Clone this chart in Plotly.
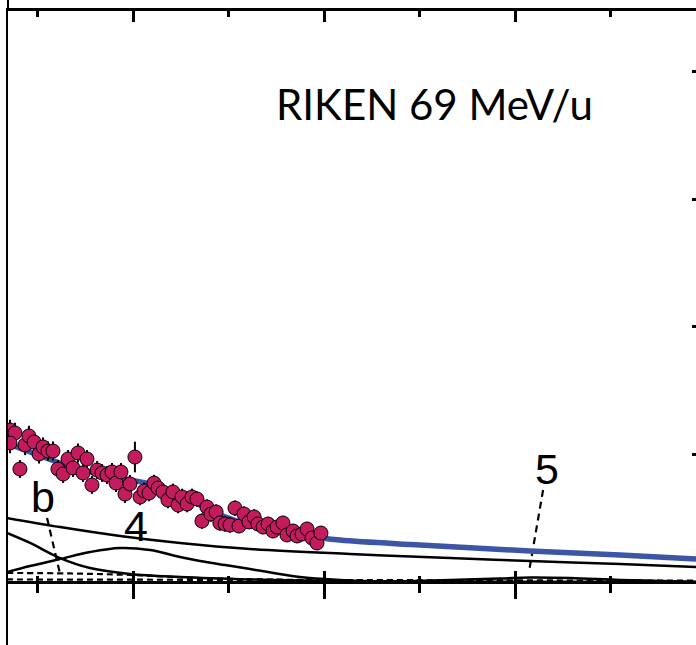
import plotly.graph_objects as go

# ---- measured spectrum (RIKEN, 69 MeV/u) ----
ex_data = [3.56, 3.82, 3.56, 4.35, 4.55, 4.82, 5.08, 5.29, 5.55, 5.81,
           4.08, 6.07, 6.34, 6.60, 6.86, 7.12, 7.38, 7.59, 7.85, 8.12,
           8.38, 8.64, 8.90, 9.11, 9.37, 9.58, 9.84, 10.10, 10.37, 10.58,
           10.84, 11.10, 11.31, 11.57, 11.83, 12.09, 12.36, 12.57, 12.83, 13.09,
           13.35, 13.61, 13.87, 14.08, 14.35, 14.55, 14.82, 15.08, 15.34, 15.55,
           15.81, 16.07, 16.34, 16.54, 16.81, 17.07, 17.33, 17.54, 17.85, 18.06,
           18.38, 18.59, 18.85, 19.11, 19.37, 19.63, 19.84]
counts = [119.2, 116.9, 109.0, 107.5, 114.5, 109.8, 100.4, 105.9, 102.7, 102.7,
          88.6, 88.6, 84.7, 96.5, 89.4, 101.2, 85.5, 96.5, 76.1, 87.8,
          85.5, 83.9, 86.3, 77.6, 86.3, 69.0, 76.9, 98.0, 66.7, 71.4,
          69.8, 77.6, 73.7, 70.6, 64.3, 70.6, 60.4, 66.7, 61.2, 66.7,
          65.1, 47.8, 58.8, 53.3, 54.9, 46.3, 45.5, 44.7, 58.0, 43.9,
          53.3, 47.1, 51.0, 45.5, 43.1, 45.5, 40.0, 43.1, 46.3, 36.9,
          40.0, 36.1, 37.6, 41.6, 34.5, 30.6, 38.4]
count_err = [8.0, 8.0, 8.0, 8.0, 8.0, 7.5, 7.5, 7.5, 7.5, 7.5,
             7.0, 7.0, 7.0, 7.0, 7.0, 7.5, 7.0, 7.0, 7.0, 7.0,
             7.0, 7.0, 7.0, 7.0, 7.0, 7.0, 7.0, 12.0, 6.5, 6.5,
             6.5, 6.5, 6.5, 6.5, 6.5, 6.5, 6.5, 6.5, 6.5, 6.5,
             6.0, 6.0, 6.0, 6.0, 6.0, 6.0, 6.0, 6.0, 6.0, 5.5,
             6.0, 5.5, 6.0, 5.5, 5.5, 5.5, 5.5, 5.5, 5.5, 5.5,
             5.5, 5.5, 5.5, 5.5, 5.5, 5.5, 5.5]

# ---- total fit ----
fit_x = [3.40, 4.61, 6.18, 7.75, 9.84, 11.15, 12.30, 13.51, 14.71, 16.65,
         18.74, 20.84, 25.03, 30.79, 35.50, 39.48]
fit_y = [109.0, 102.0, 93.3, 86.3, 80.0, 76.1, 69.0, 60.4, 51.8, 42.4,
         36.9, 32.9, 29.0, 24.3, 21.2, 18.0]

# ---- fit components ----
cont_x = [3.40, 6.18, 9.32, 12.46, 16.13, 21.36, 26.60, 30.79, 35.50, 39.48]
cont_y = [50.2, 43.1, 36.1, 30.6, 25.9, 22.0, 18.8, 16.5, 14.1, 11.8]

low_x = [3.40, 4.61, 6.18, 7.75, 9.84, 12.46, 16.13, 20.31, 26.60, 39.48]
low_y = [38.4, 30.6, 18.8, 11.0, 6.3, 3.9, 2.0, 0.8, 0.2, 0.0]

st4_x = [3.40, 4.61, 6.18, 7.75, 9.32, 10.89, 12.46, 13.51, 14.82, 16.13,
         18.74, 20.84, 23.98, 39.48]
st4_y = [7.8, 12.5, 18.0, 23.5, 26.7, 25.1, 19.6, 16.5, 13.3, 10.2,
         3.9, 1.6, 0.0, 0.0]

st5_x = [22.93, 26.60, 29.21, 30.79, 32.88, 35.50, 38.64, 39.48]
st5_y = [0.0, 1.6, 2.7, 3.5, 3.1, 1.6, 0.4, 0.0]

bg_x = [3.40, 6.71, 9.84, 13.51, 18.74, 26.60, 39.48]
bg_y = [7.1, 6.7, 5.5, 3.1, 1.6, 0.8, 0.4]

bg2_x = [3.40, 39.48]
bg2_y = [2.0, 1.0]

# ---- labels and leader lines ----
labels = ["b", "4", "5"]
label_x = [5.29, 10.16, 31.68]
label_y = [67.0, 44.0, 88.5]
lead_b_x = [5.50, 6.18]
lead_b_y = [50.2, 6.3]
lead_5_x = [31.47, 30.73]
lead_5_y = [72.2, 7.8]

title_text = "RIKEN 69 MeV/u"
title_x = 25.81
title_y = 374.5

# axis geometry
x_range = [3.455, 39.476]
y_range = [-49.4, 447.8]
y_ticks = [100, 200, 300, 400]
zero_pos = (0 - y_range[0]) / (y_range[1] - y_range[0])

fig = go.Figure()

fig.add_trace(go.Scatter(x=bg2_x, y=bg2_y, mode="lines",
                         line=dict(color="black", width=2.2, dash="6px,4px")))
fig.add_trace(go.Scatter(x=bg_x, y=bg_y, mode="lines",
                         line=dict(color="black", width=2.2, dash="6px,4px", shape="spline")))
for cx, cy in [(low_x, low_y), (st4_x, st4_y), (st5_x, st5_y), (cont_x, cont_y)]:
    fig.add_trace(go.Scatter(x=cx, y=cy, mode="lines",
                             line=dict(color="black", width=2.5, shape="spline", smoothing=1.0)))

for lx, ly in [(lead_b_x, lead_b_y), (lead_5_x, lead_5_y)]:
    fig.add_trace(go.Scatter(x=lx, y=ly, mode="lines",
                             line=dict(color="black", width=2.2, dash="7px,5px")))

fig.add_trace(go.Scatter(x=fit_x, y=fit_y, mode="lines",
                         line=dict(color="#3D55A5", width=5.5, shape="spline", smoothing=1.0)))

fig.add_trace(go.Scatter(
    x=ex_data, y=counts, mode="markers",
    marker=dict(size=14, color="#C41A5E", line=dict(color="black", width=1)),
    error_y=dict(type="data", array=count_err, color="black", thickness=2, width=0),
))

# invisible carriers so the overlay axes render
fig.add_trace(go.Scatter(x=x_range, y=[None, None], xaxis="x2", yaxis="y", showlegend=False))
fig.add_trace(go.Scatter(x=x_range, y=[None, None], xaxis="x3", yaxis="y2", showlegend=False))

for t, tx, ty in zip(labels, label_x, label_y):
    fig.add_annotation(x=tx, y=ty, text=t, showarrow=False, xanchor="center", yanchor="middle",
                       font=dict(family="Liberation Sans, Arial", size=43, color="black"))

fig.add_annotation(x=title_x, y=title_y, text=title_text, showarrow=False,
                   xanchor="center", yanchor="middle",
                   font=dict(family="Lato, Open Sans", size=42, color="black"))

# left frame line continues above the top axis
fig.add_shape(type="line", xref="paper", yref="paper", x0=0, x1=0, y0=1, y1=1.03,
              line=dict(color="black", width=2), xsizemode="pixel", xanchor=0)

common_x = dict(range=x_range, showgrid=False, zeroline=False, showticklabels=False,
                tick0=0, dtick=10)
fig.update_layout(
    width=696, height=645, autosize=False,
    margin=dict(l=8, r=0, t=11, b=0),
    paper_bgcolor="white", plot_bgcolor="white",
    showlegend=False,
    xaxis=dict(**common_x, anchor="free", position=zero_pos, side="bottom",
               showline=True, linecolor="black", linewidth=3,
               ticks="outside", ticklen=15, tickwidth=3, tickcolor="black",
               minor=dict(ticks="outside", ticklen=9, tickwidth=2.5, tickcolor="black",
                          tick0=0, dtick=5)),
    xaxis3=dict(**common_x, overlaying="x", anchor="free", position=zero_pos, side="bottom",
                showline=False, ticks="inside", ticklen=11, tickwidth=3, tickcolor="black",
                minor=dict(ticks="inside", ticklen=6, tickwidth=2.5, tickcolor="black",
                           tick0=0, dtick=5)),
    xaxis2=dict(**common_x, overlaying="x", anchor="y", side="top",
                showline=True, linecolor="black", linewidth=3,
                ticks="inside", ticklen=11, tickwidth=2.5, tickcolor="black",
                minor=dict(ticks="inside", ticklen=6, tickwidth=2.5, tickcolor="black",
                           tick0=0, dtick=5)),
    yaxis=dict(range=y_range, showgrid=False, zeroline=False, showticklabels=False,
               showline=True, linecolor="black", linewidth=2, ticks=""),
    yaxis2=dict(range=y_range, overlaying="y", side="right", anchor="x",
                showgrid=False, zeroline=False, showticklabels=False, showline=False,
                ticks="inside", ticklen=4, tickwidth=2.5, tickcolor="black",
                tickvals=y_ticks),
)

fig.write_html("out.html")
